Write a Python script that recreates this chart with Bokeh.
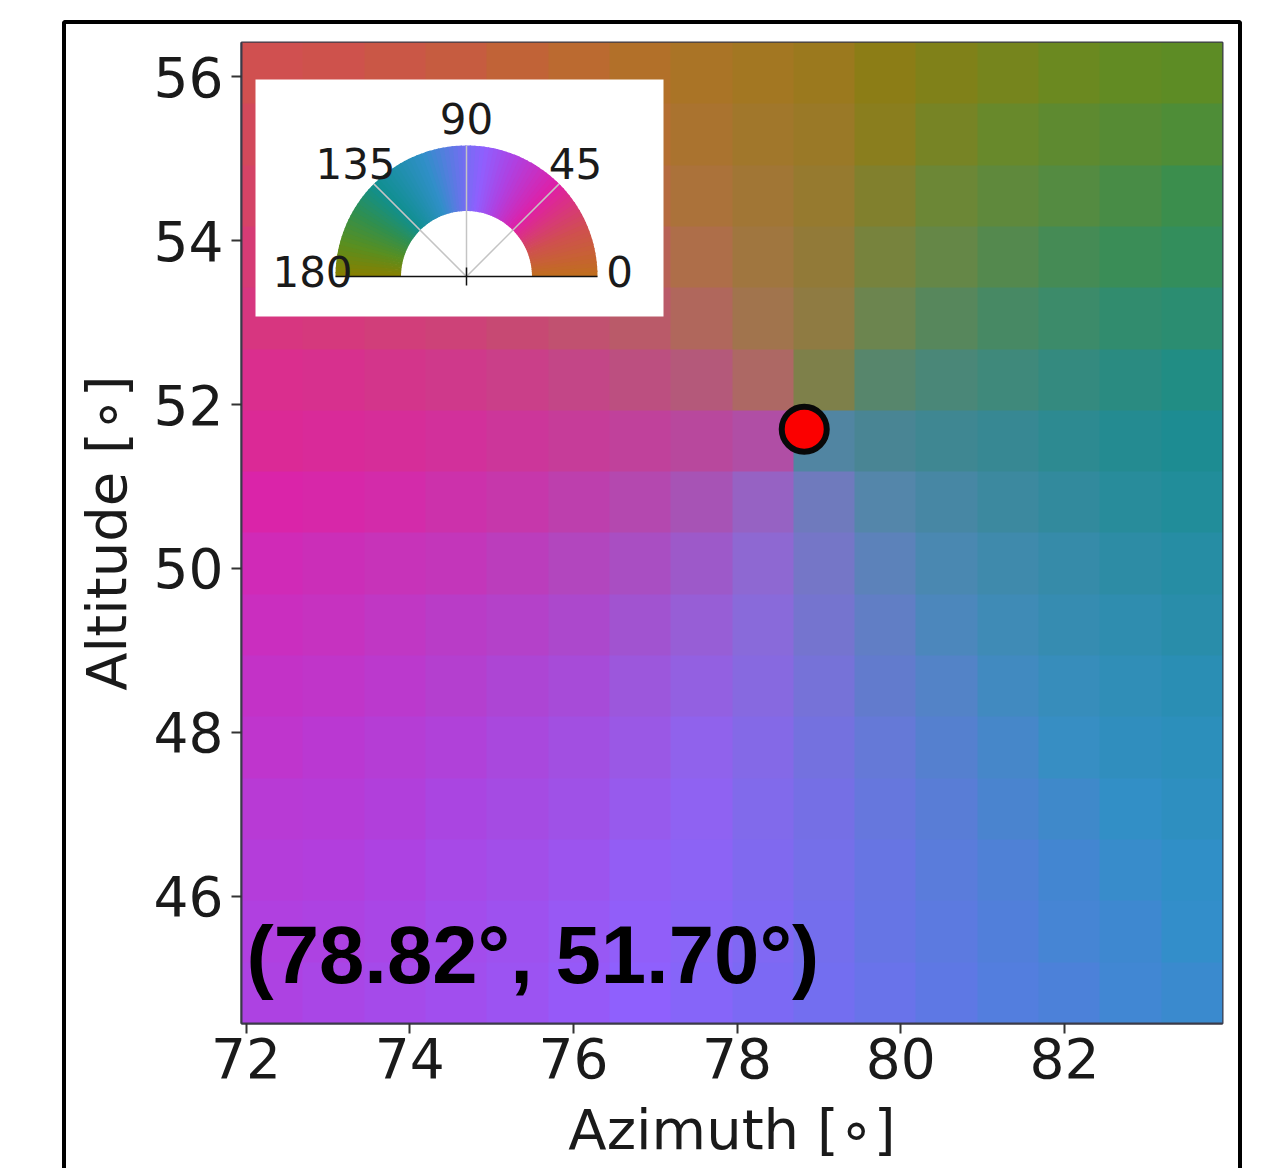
import numpy as np
from bokeh.plotting import figure
from bokeh.models import BoxAnnotation, Label, FixedTicker, Range1d
from bokeh.embed import file_html
from bokeh.resources import INLINE

# --- data ------------------------------------------------------------------
x_extent = (71.945, 83.93)
y_extent = (44.448, 56.418)
# mean polarisation angle in degrees per 16 x 16 cell, top row first
angle = [
    [22, 21, 19, 17, 14, 11, 7, 4, 1, 178, 173, 170, 168, 166, 164, 163],
    [25, 24, 22, 20, 17, 13, 9, 5, 1, 178, 172, 168, 165, 162, 160, 158],
    [28, 27, 25, 23, 20, 17, 12, 7, 2, 177, 170, 165, 161, 158, 155, 152],
    [32, 31, 30, 28, 25, 22, 18, 11, 3, 176, 167, 161, 156, 152, 150, 148],
    [35, 34, 33, 32, 30, 28, 24, 17, 6, 175, 162, 154, 149, 146, 144, 143],
    [39, 39, 38, 38, 37, 36, 33, 29, 18, 168, 150, 144, 142, 140, 139, 138],
    [41, 42, 42, 43, 43, 43, 44, 46, 52, 120, 131, 133, 133, 134, 134, 134],
    [47, 47, 48, 49, 50, 52, 55, 61, 74, 98, 114, 121, 125, 127, 129, 130],
    [52, 53, 54, 55, 57, 60, 64, 71, 81, 94, 105, 113, 118, 121, 124, 125],
    [55, 56, 58, 60, 62, 65, 70, 76, 84, 93, 101, 108, 113, 117, 119, 122],
    [58, 59, 61, 63, 66, 69, 74, 79, 85, 92, 99, 104, 109, 113, 116, 118],
    [60, 62, 64, 66, 69, 72, 76, 81, 86, 92, 97, 102, 106, 110, 113, 115],
    [63, 64, 66, 69, 71, 74, 78, 82, 87, 91, 96, 100, 104, 107, 110, 113],
    [65, 66, 68, 71, 73, 76, 80, 83, 87, 91, 95, 99, 102, 105, 108, 110],
    [67, 68, 70, 73, 75, 78, 81, 84, 87, 91, 95, 98, 101, 104, 106, 109],
    [68, 70, 72, 74, 76, 79, 82, 85, 88, 91, 94, 97, 100, 102, 105, 107],
]
# share of grey speckle in the local mean colour, in percent
speckle = [
    [0, 0, 2, 3, 5, 8, 10, 12, 13, 13, 12, 11, 9, 7, 4, 2],
    [0, 1, 3, 5, 9, 12, 15, 18, 20, 20, 19, 16, 13, 10, 7, 4],
    [0, 2, 5, 8, 12, 16, 21, 25, 27, 27, 26, 23, 18, 14, 10, 6],
    [1, 3, 7, 11, 15, 21, 27, 32, 34, 35, 33, 29, 23, 17, 12, 8],
    [2, 4, 8, 12, 18, 25, 32, 38, 43, 43, 39, 34, 28, 21, 14, 10],
    [2, 5, 9, 14, 20, 28, 35, 43, 45, 45, 44, 38, 30, 23, 16, 10],
    [2, 5, 9, 14, 21, 28, 36, 44, 45, 45, 45, 38, 31, 23, 16, 10],
    [2, 5, 8, 14, 20, 27, 34, 42, 45, 45, 44, 36, 29, 22, 15, 10],
    [1, 4, 8, 11, 17, 24, 30, 35, 39, 39, 37, 32, 26, 20, 14, 9],
    [0, 3, 6, 10, 14, 19, 25, 29, 31, 32, 30, 26, 21, 16, 11, 8],
    [0, 2, 4, 8, 11, 14, 19, 22, 24, 24, 23, 20, 16, 12, 8, 5],
    [0, 0, 3, 5, 8, 10, 13, 15, 17, 17, 16, 14, 11, 8, 5, 3],
    [0, 0, 2, 3, 5, 7, 9, 11, 12, 12, 11, 10, 8, 6, 3, 2],
    [0, 0, 0, 1, 3, 4, 6, 7, 8, 8, 7, 6, 5, 3, 2, 1],
    [0, 0, 0, 0, 1, 2, 3, 4, 4, 4, 4, 3, 2, 1, 0, 0],
    [0, 0, 0, 0, 0, 0, 1, 1, 1, 1, 1, 1, 0, 0, 0, 0],
]
point_x = [78.82]
point_y = [51.70]
readout = "(78.82°, 51.70°)"
x_ticks = [72, 74, 76, 78, 80, 82]
y_ticks = [46, 48, 50, 52, 54, 56]
dial_ticks = [0, 45, 90, 135, 180]

# colour scale of the dial
cmap_angle = [0, 22, 45, 67, 82, 92, 110, 135, 150, 165, 180]
cmap_rgb = [(192, 112, 30), (208, 80, 80), (224, 32, 165), (176, 64, 224),
            (144, 96, 255), (112, 112, 240), (48, 144, 200), (16, 143, 144),
            (48, 144, 80), (90, 143, 32), (138, 127, 0)]
# the same scale for the map, where the two ends of the dial meet in a mean colour
map_angle = [0, 10, 22, 45, 67, 82, 92, 110, 135, 150, 165, 172, 180]
map_rgb = [(165, 120, 16), (190, 108, 36), (208, 80, 80), (224, 32, 165), (176, 64, 224),
           (144, 96, 255), (112, 112, 240), (48, 144, 200), (16, 143, 144),
           (48, 144, 80), (100, 140, 28), (138, 127, 4), (165, 120, 16)]
speckle_rgb = (138, 122, 144)


def colour(a, xp=cmap_angle, fp=cmap_rgb):
    return [np.interp(a, xp, [c[i] for c in fp]) for i in range(3)]


def hexcolour(a):
    return "#%02x%02x%02x" % tuple(int(v) for v in colour(a))


# --- figure ------------------------------------------------------------------
xr = x_extent
yr = y_extent
p = figure(width=1282, height=1168, frame_width=981, frame_height=981,
           x_range=Range1d(*xr), y_range=Range1d(*yr),
           output_backend="svg", toolbar_location=None,
           min_border_left=241, min_border_top=42, min_border_right=60, min_border_bottom=145,
           x_axis_label="Azimuth [∘]", y_axis_label="Altitude [∘]")
p.grid.visible = False
p.background_fill_color = "white"
p.outline_line_color = "#3a3a48"
p.outline_line_width = 2
# outer black frame, open at the bottom of the page
p.stylesheets = [":host::after { content: ''; position: absolute; left: 62px; top: 20px; "
                 "width: 1172px; height: 1144px; border: 4px solid black; border-bottom: none; "
                 "border-radius: 4px 4px 0 0; pointer-events: none; box-sizing: content-box; }"]

# heat map
rows = []
for ra, rs in zip(angle[::-1], speckle[::-1]):
    row = []
    for a, s in zip(ra, rs):
        c = colour(a, map_angle, map_rgb)
        m = [c[i] * (1 - s / 100) + speckle_rgb[i] * s / 100 for i in range(3)]
        row.append(int(m[0]) | int(m[1]) << 8 | int(m[2]) << 16 | 255 << 24)
    rows.append(row)
img = np.array(rows, dtype=np.uint32)
p.image_rgba(image=[img], x=xr[0], y=yr[0], dw=xr[1] - xr[0], dh=yr[1] - yr[0])

# axes
for ax, ticks in ((p.xaxis, x_ticks), (p.yaxis, y_ticks)):
    ax.ticker = FixedTicker(ticks=ticks)
    ax.major_label_text_font = "DejaVu Sans"
    ax.major_label_text_font_size = "55px"
    ax.major_label_text_color = "#1a1a1a"
    ax.axis_label_text_font = "DejaVu Sans"
    ax.axis_label_text_font_size = "56px"
    ax.axis_label_text_font_style = "normal"
    ax.axis_label_text_color = "#1a1a1a"
    ax.major_tick_out = 10
    ax.major_tick_in = 0
    ax.minor_tick_out = 0
    ax.minor_tick_in = 0
    ax.major_tick_line_width = 2
    ax.major_tick_line_color = "#333333"
    ax.axis_line_color = "#3a3a48"
    ax.axis_line_width = 2
p.xaxis.major_label_standoff = 4
p.yaxis.major_label_standoff = 8
p.xaxis.axis_label_standoff = 16
p.yaxis.axis_label_standoff = 12

# point
p.scatter(point_x, point_y, size=45, fill_color="#fb0000", line_color="#080808", line_width=6)

# readout
p.add_layout(Label(x=246, y=954, x_units="canvas", y_units="canvas", text=readout,
                   text_font="Liberation Sans", text_font_style="bold",
                   text_font_size="81.5px", text_color="black", text_baseline="middle",
                   level="overlay"))

# dial panel
p.add_layout(BoxAnnotation(left=255, right=663, top=79, bottom=316,
                           left_units="canvas", right_units="canvas",
                           top_units="canvas", bottom_units="canvas",
                           fill_color="white", fill_alpha=1, line_color=None,
                           level="annotation"))
cx = xr[0] + (466 - 241) / 981 * (xr[1] - xr[0])
cy = yr[1] - (276 - 42) / 981 * (yr[1] - yr[0])
steps = list(range(0, 180, 2))
p.annular_wedge(x=cx, y=cy, inner_radius=65.5, outer_radius=131,
                inner_radius_units="screen", outer_radius_units="screen",
                start_angle=[np.radians(a) for a in steps],
                end_angle=[np.radians(a + 2.6) if a < 178 else np.radians(180) for a in steps],
                fill_color=[hexcolour(a + 1) for a in steps], line_color=None, level="overlay")
p.ray(x=cx, y=cy, length=131, length_units="screen",
      angle=[np.radians(45), np.radians(90), np.radians(135)],
      line_color="#c4c4c4", line_width=1.5, level="overlay")
p.ray(x=cx, y=cy, length=131, length_units="screen",
      angle=[0, np.pi], line_color="#111111", line_width=1.5, level="overlay")
p.ray(x=cx, y=cy, length=9, length_units="screen",
      angle=[np.pi * 1.5, np.pi / 2], line_color="#111111", line_width=1.5, level="overlay")

dial_pos = {0: (619, 271), 45: (575, 163), 90: (466, 118), 135: (355, 163), 180: (312, 271)}
for t in dial_ticks:
    lx, ly = dial_pos[t]
    p.add_layout(Label(x=lx, y=ly, x_units="canvas", y_units="canvas", text=str(t),
                       text_font="DejaVu Sans", text_font_size="42px", text_color="#1a1a1a",
                       text_align="center", text_baseline="middle", level="overlay"))

open("out.html", "w").write(file_html(p, INLINE))
